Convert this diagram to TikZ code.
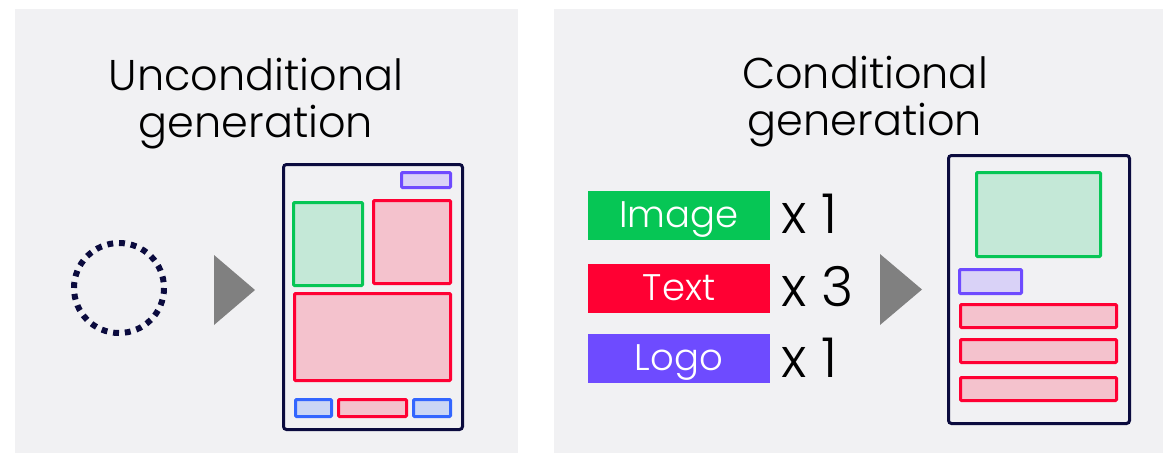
\documentclass[tikz,border=0pt]{standalone}
\usepackage{fontspec}
\setmainfont{Poppins}[UprightFont=* Light]
\definecolor{panel}{HTML}{F1F1F3}
\definecolor{navy}{HTML}{0B0B3E}
\definecolor{imgG}{HTML}{06C655}
\definecolor{imgGf}{HTML}{C4E8D7}
\definecolor{txtR}{HTML}{FF0033}
\definecolor{txtRf}{HTML}{F4C2CD}
\definecolor{logoP}{HTML}{6E4BFF}
\definecolor{logoPf}{HTML}{D9D2F7}
\definecolor{boxB}{HTML}{3366FF}
\definecolor{boxBf}{HTML}{CAD6F5}
\definecolor{arrowgray}{HTML}{808080}
\tikzset{
  page/.style={draw=navy, line width=3pt, rounded corners=3pt, fill=panel, inner sep=0pt},
  elem/.style={line width=3pt, rounded corners=1pt, inner sep=0pt},
  imgbox/.style={elem, draw=imgG, fill=imgGf},
  txtbox/.style={elem, draw=txtR, fill=txtRf},
  logobox/.style={elem, draw=logoP, fill=logoPf},
  bluebox/.style={elem, draw=boxB, fill=boxBf},
  tag/.style={inner sep=0pt, minimum width=182pt, minimum height=49pt, text=white,
    text height=25pt, text depth=1pt, font=\fontsize{37}{40}\selectfont},
  count/.style={anchor=west, inner sep=0pt, font=\fontsize{55}{60}\selectfont},
  title/.style={anchor=base, inner sep=0pt, font=\fontsize{43}{48}\selectfont},
  play/.style={fill=arrowgray, draw=none}
}
\begin{document}
\begin{tikzpicture}[x=1pt,y=-1pt]
\useasboundingbox (0,0) rectangle (1163,453);
% background panels
\fill[panel] (15,9) rectangle (518,453);
\fill[panel] (554,9) rectangle (1163,453);

% ---------- unconditional ----------
\node[title] (ut1) at (256,90) {Unconditional};
\node[title] (ut2) at (256,137) {generation};

\draw[navy, line width=6pt, dash pattern=on 5.89pt off 5.89pt] (119,288) circle[radius=45];
\fill[play] (214,255) -- (255,290) -- (214,325) -- cycle;

\node[page, minimum width=179pt, minimum height=265pt] (lpage) at (373,297) {};
\node[logobox, minimum width=49pt, minimum height=15pt] (llogo) at (426,180) {};
\node[imgbox, minimum width=69pt, minimum height=83pt] (limg) at (328,244) {};
\node[txtbox, minimum width=77pt, minimum height=83pt] (ltxt1) at (412,242) {};
\node[txtbox, minimum width=156pt, minimum height=87pt] (ltxt2) at (372.5,337) {};
\node[bluebox, minimum width=36pt, minimum height=17pt] (lblue1) at (313.5,408) {};
\node[txtbox, minimum width=68pt, minimum height=17pt] (ltxt3) at (372.5,408) {};
\node[bluebox, minimum width=37pt, minimum height=17pt] (lblue2) at (432,408) {};

% ---------- conditional ----------
\node[title] (ct1) at (865,88) {Conditional};
\node[title] (ct2) at (865,135) {generation};

\node[tag, fill=imgG] (timg) at (679,215.5) {Image};
\node[tag, fill=txtR] (ttxt) at (679,288) {Text};
\node[tag, fill=logoP] (tlogo) at (679,358.5) {Logo};
\node[count] (cimg) at (781,214) {x 1};
\node[count] (ctxt) at (781,287) {x 3};
\node[count] (clogo) at (781,357.5) {x 1};

\fill[play] (880,254) -- (922,289.5) -- (880,325) -- cycle;

\node[page, minimum width=181pt, minimum height=268pt] (rpage) at (1039,289.5) {};
\node[imgbox, minimum width=124pt, minimum height=84pt] (rimg) at (1038.5,214.5) {};
\node[logobox, minimum width=62pt, minimum height=24pt] (rlogo) at (990.5,281.5) {};
\node[txtbox, minimum width=156pt, minimum height=23pt] (rtxt1) at (1038.5,316) {};
\node[txtbox, minimum width=156pt, minimum height=23pt] (rtxt2) at (1038.5,351) {};
\node[txtbox, minimum width=156pt, minimum height=23pt] (rtxt3) at (1038.5,389) {};
\end{tikzpicture}
\end{document}
